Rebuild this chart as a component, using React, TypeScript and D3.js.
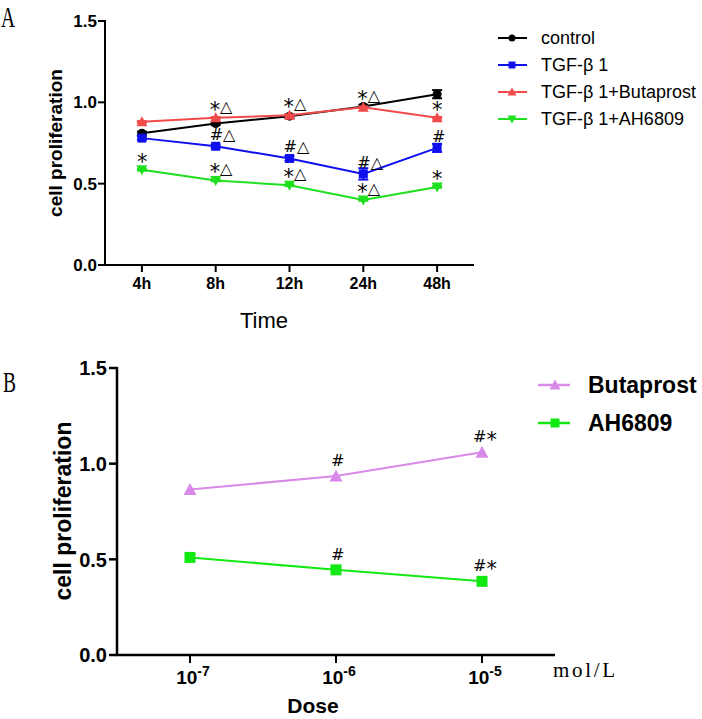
import React from "react";
import * as d3 from "d3";

const timeCats = ["4h", "8h", "12h", "24h", "48h"];
const controlVals = [0.81, 0.87, 0.915, 0.975, 1.05];
const controlErr = [0.01, 0.01, 0.01, 0.01, 0.025];
const tgfVals = [0.78, 0.73, 0.655, 0.56, 0.72];
const tgfErr = [0.01, 0.01, 0.015, 0.035, 0.025];
const butaVals = [0.88, 0.905, 0.92, 0.97, 0.905];
const butaErr = [0.005, 0.005, 0.005, 0.005, 0.005];
const ahVals = [0.585, 0.52, 0.49, 0.40, 0.48];
const ahErr = [0.005, 0.005, 0.005, 0.005, 0.005];
const yTicksA = [0, 0.5, 1.0, 1.5];

// annotations for panel A: [timeIndex, value-anchor, text]
const annotA: [number, number, string][] = [
  [0, 0.585, "*"],
  [1, 0.905, "*△"], [1, 0.73, "#△"], [1, 0.52, "*△"],
  [2, 0.92, "*△"], [2, 0.655, "#△"], [2, 0.49, "*△"],
  [3, 0.97, "*△"], [3, 0.56, "#△"], [3, 0.40, "*△"],
  [4, 0.905, "*"], [4, 0.72, "#"], [4, 0.48, "*"],
];

const doseExp = ["-7", "-6", "-5"];
const butaDose = [0.865, 0.935, 1.06];
const ahDose = [0.51, 0.445, 0.385];
const yTicksB = [0, 0.5, 1.0, 1.5];
const annotB: [number, number, string][] = [
  [1, 0.935, "#"], [1, 0.445, "#"], [2, 1.06, "#*"], [2, 0.385, "#*"],
];

const SANS = "'Liberation Sans', Arial, sans-serif";
const SERIF = "'Liberation Serif', 'DejaVu Serif', serif";
const MARK = "'DejaVu Sans', sans-serif";

function Marker({ shape, x, y, size, color }: { shape: string; x: number; y: number; size: number; color: string }) {
  const h = size / 2;
  if (shape === "circle") return <circle cx={x} cy={y} r={h} fill={color} />;
  if (shape === "square") return <rect x={x - h} y={y - h} width={size} height={size} fill={color} />;
  if (shape === "up")
    return <path d={`M${x},${y - h - 1}L${x + h + 1},${y + h}L${x - h - 1},${y + h}Z`} fill={color} />;
  return <path d={`M${x},${y + h + 1}L${x + h + 1},${y - h}L${x - h - 1},${y - h}Z`} fill={color} />;
}

function Annot({ x, y, t, size }: { x: number; y: number; t: string; size: number }) {
  const shift = Math.round(size * 0.32);
  let cur = 0;
  return (
    <text x={x} y={y} fontFamily={MARK} fontSize={size}>
      {t.split("").map((ch, i) => {
        if (ch === "*") {
          const dy = shift - cur;
          cur = shift;
          return <tspan key={i} fontSize={size * 1.3} dy={dy}>{ch}</tspan>;
        }
        const dy = -cur;
        cur = 0;
        return <tspan key={i} dy={dy}>{ch}</tspan>;
      })}
    </text>
  );
}

export default function App() {
  // Panel A
  const xA = d3.scalePoint<string>().domain(timeCats).range([105, 474]).padding(0.5);
  const yA = d3.scaleLinear().domain([0, 1.5]).range([265, 21]);
  const seriesA = [
    { name: "control", vals: controlVals, err: controlErr, color: "#000000", shape: "circle" },
    { name: "TGF-β 1", vals: tgfVals, err: tgfErr, color: "#1010ee", shape: "square" },
    { name: "TGF-β 1+Butaprost", vals: butaVals, err: butaErr, color: "#f04a4a", shape: "up" },
    { name: "TGF-β 1+AH6809", vals: ahVals, err: ahErr, color: "#1ee01e", shape: "down" },
  ];
  const lineA = d3.line<number>().x((_, i) => xA(timeCats[i])!).y((v) => yA(v));

  // Panel B
  const xB = d3.scalePoint<string>().domain(doseExp).range([117, 555]).padding(0.5);
  const yB = d3.scaleLinear().domain([0, 1.5]).range([655, 368]);
  const seriesB = [
    { name: "Butaprost", vals: butaDose, color: "#d98ae8", shape: "up" },
    { name: "AH6809", vals: ahDose, color: "#12e812", shape: "square" },
  ];
  const lineB = d3.line<number>().x((_, i) => xB(doseExp[i])!).y((v) => yB(v));

  return (
    <svg width={702} height={719} style={{ position: "absolute", left: 0, top: 0, background: "#fff" }}>
      <rect width={702} height={719} fill="#fff" />
      {/* Panel A */}
      <text transform="translate(1,27) scale(0.65,1)" fontFamily={SERIF} fontSize={30}>A</text>
      <line x1={105} x2={105} y1={20} y2={266} stroke="#000" strokeWidth={2} />
      <line x1={104} x2={474} y1={265} y2={265} stroke="#000" strokeWidth={2} />
      {yTicksA.map((t) => (
        <g key={t}>
          <line x1={98} x2={105} y1={yA(t)} y2={yA(t)} stroke="#000" strokeWidth={2} />
          <text x={97} y={yA(t)} dy="0.36em" textAnchor="end" fontFamily={SANS} fontWeight="bold" fontSize={17}>
            {t.toFixed(1)}
          </text>
        </g>
      ))}
      {timeCats.map((c) => (
        <g key={c}>
          <line x1={xA(c)} x2={xA(c)} y1={265} y2={272} stroke="#000" strokeWidth={2} />
          <text x={xA(c)} y={289} textAnchor="middle" fontFamily={SANS} fontWeight="bold" fontSize={16}>{c}</text>
        </g>
      ))}
      <text x={264} y={328} textAnchor="middle" fontFamily={SANS} fontSize={22}>Time</text>
      <text transform="translate(62,143) rotate(-90)" textAnchor="middle" fontFamily={SANS} fontWeight="bold" fontSize={19}>
        cell  proliferation
      </text>
      {seriesA.map((s) => (
        <g key={s.name}>
          <path d={lineA(s.vals)!} fill="none" stroke={s.color} strokeWidth={2} />
          {s.vals.map((v, i) => {
            const x = xA(timeCats[i])!;
            return (
              <g key={i}>
                <line x1={x} x2={x} y1={yA(v + s.err[i])} y2={yA(v - s.err[i])} stroke={s.color} strokeWidth={2} />
                <line x1={x - 5} x2={x + 5} y1={yA(v + s.err[i])} y2={yA(v + s.err[i])} stroke={s.color} strokeWidth={2} />
                <line x1={x - 5} x2={x + 5} y1={yA(v - s.err[i])} y2={yA(v - s.err[i])} stroke={s.color} strokeWidth={2} />
                <Marker shape={s.shape} x={x} y={yA(v)} size={9} color={s.color} />
              </g>
            );
          })}
        </g>
      ))}
      {annotA.map(([i, v, t], k) => (
        <Annot key={k} x={xA(timeCats[i])! - (t.length === 1 ? 5 : 6)} y={yA(v) - 6} t={t} size={16} />
      ))}
      {seriesA.map((s, k) => {
        const y = 38 + k * 27;
        return (
          <g key={s.name}>
            <line x1={498} x2={527} y1={y} y2={y} stroke={s.color} strokeWidth={2} />
            <Marker shape={s.shape} x={512} y={y} size={7} color={s.color} />
            <text x={541} y={y} dy="0.35em" fontFamily={SANS} fontSize={18}>{s.name}</text>
          </g>
        );
      })}

      {/* Panel B */}
      <text transform="translate(3,392) scale(0.65,1)" fontFamily={SERIF} fontSize={30}>B</text>
      <line x1={117} x2={117} y1={367} y2={656} stroke="#000" strokeWidth={2.5} />
      <line x1={116} x2={555} y1={655} y2={655} stroke="#000" strokeWidth={2.5} />
      {yTicksB.map((t) => (
        <g key={t}>
          <line x1={109} x2={117} y1={yB(t)} y2={yB(t)} stroke="#000" strokeWidth={2.5} />
          <text x={107} y={yB(t)} dy="0.36em" textAnchor="end" fontFamily={SANS} fontWeight="bold" fontSize={20}>
            {t.toFixed(1)}
          </text>
        </g>
      ))}
      {doseExp.map((e) => (
        <g key={e}>
          <line x1={xB(e)} x2={xB(e)} y1={655} y2={663} stroke="#000" strokeWidth={2} />
          <text x={xB(e) + 3} y={684} textAnchor="middle" fontFamily={SANS} fontWeight="bold" fontSize={19}>
            10<tspan dy={-8} fontSize={14}>{e}</tspan>
          </text>
        </g>
      ))}
      <text x={553} y={677} fontFamily={SERIF} fontSize={21} textLength={62}>mol/L</text>
      <text x={313} y={713} textAnchor="middle" fontFamily={SANS} fontWeight="bold" fontSize={21}>Dose</text>
      <text transform="translate(71,511) rotate(-90)" textAnchor="middle" fontFamily={SANS} fontWeight="bold" fontSize={23}>
        cell proliferation
      </text>
      {seriesB.map((s) => (
        <g key={s.name}>
          <path d={lineB(s.vals)!} fill="none" stroke={s.color} strokeWidth={2} />
          {s.vals.map((v, i) => (
            <Marker key={i} shape={s.shape} x={xB(doseExp[i])!} y={yB(v)} size={11} color={s.color} />
          ))}
        </g>
      ))}
      {annotB.map(([i, v, t], k) => (
        <Annot key={k} x={xB(doseExp[i])! - (t.length === 1 ? 5 : 9)} y={yB(v) - 10} t={t} size={16} />
      ))}
      {seriesB.map((s, k) => {
        const y = 385 + k * 38;
        return (
          <g key={s.name}>
            <line x1={538} x2={570} y1={y} y2={y} stroke={s.color} strokeWidth={2.5} />
            <Marker shape={s.shape} x={555} y={y} size={9} color={s.color} />
            <text x={588} y={y} dy="0.36em" fontFamily={SANS} fontWeight="bold" fontSize={23}>{s.name}</text>
          </g>
        );
      })}
    </svg>
  );
}
